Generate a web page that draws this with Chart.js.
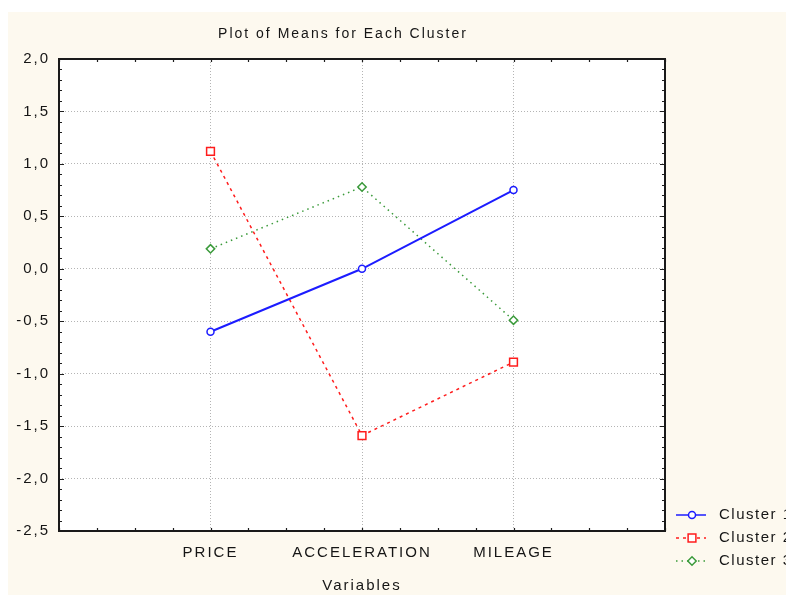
<!DOCTYPE html>
<html><head><meta charset="utf-8">
<script src="https://cdn.jsdelivr.net/npm/chart.js@4.4.1/dist/chart.umd.min.js"></script>
<style>html,body{margin:0;padding:0;background:#fff;overflow:hidden}#wrap{width:786px;height:595px;position:relative}</style>
</head><body><div id="wrap"><canvas id="c" width="786" height="595"></canvas></div>
<script>
// ---- data ----
const chartTitle = 'Plot of Means for Each Cluster';
const xAxisTitle = 'Variables';
const categories = ['PRICE', 'ACCELERATION', 'MILEAGE'];
const seriesNames = ['Cluster 1', 'Cluster 2', 'Cluster 3'];
const cluster1 = [-0.60, 0.00, 0.75];
const cluster2 = [1.12, -1.59, -0.89];
const cluster3 = [0.19, 0.78, -0.49];
const yTickValues = [2.0, 1.5, 1.0, 0.5, 0.0, -0.5, -1.0, -1.5, -2.0, -2.5];

// ---- styles ----
const FONT = "'Liberation Sans', Arial, sans-serif";
const TEXT = '#151515';
const SPACING = '2px';
const styles = [
  {color: '#1c1cff', dash: [], point: 'circle', radius: 3.5, width: 2},
  {color: '#ff1c1c', dash: [3, 4], point: 'rect', radius: 5.5, width: 1.5},
  {color: '#3a9a3a', dash: [1.5, 4], point: 'rectRot', radius: 4.2, width: 1.5}
];
const seriesValues = [cluster1, cluster2, cluster3];

const datasets = seriesValues.map((vals, i) => ({
  label: seriesNames[i],
  data: vals.map((v, j) => ({x: j + 1, y: v})),
  borderColor: styles[i].color,
  borderWidth: styles[i].width,
  borderDash: styles[i].dash,
  pointStyle: styles[i].point,
  pointRadius: styles[i].radius,
  pointBorderWidth: 1.5,
  pointBorderColor: styles[i].color,
  pointBackgroundColor: '#ffffff',
  showLine: true,
  tension: 0
}));

const gridColor = (edgeA, edgeB) => (c) => {
  const v = c.tick ? c.tick.value : null;
  return (v === edgeA || v === edgeB) ? 'rgba(0,0,0,0)' : '#b4b4b4';
};

const decorPlugin = {
  id: 'decor',
  beforeUpdate(chart) { chart.ctx.letterSpacing = SPACING; },
  beforeDraw(chart) {
    const ctx = chart.ctx;
    ctx.letterSpacing = SPACING;
    ctx.save();
    ctx.fillStyle = '#ffffff';
    ctx.fillRect(0, 0, chart.width, chart.height);
    ctx.fillStyle = '#fdf9ef';
    ctx.fillRect(8, 12, chart.width - 8, chart.height - 12);
    const a = chart.chartArea;
    ctx.fillStyle = '#ffffff';
    ctx.fillRect(a.left, a.top, a.right - a.left, a.bottom - a.top);
    ctx.restore();
  },
  afterDraw(chart) {
    const ctx = chart.ctx;
    const a = chart.chartArea;
    const xs = chart.scales.x, ys = chart.scales.y;
    ctx.save();
    // title, centred over the plot frame region as in the original
    ctx.font = '14px ' + FONT;
    ctx.letterSpacing = SPACING;
    ctx.fillStyle = TEXT;
    ctx.textAlign = 'center';
    ctx.textBaseline = 'middle';
    ctx.fillText(chartTitle, (a.left + a.right) / 2 - 19, a.top - 25);

    ctx.strokeStyle = '#1e1e1e';
    ctx.lineWidth = 1.2;
    ctx.beginPath();
    // y ticks every 0.1, both sides, inward
    for (let k = -25; k <= 20; k++) {
      const y = Math.round(ys.getPixelForValue(k / 10)) + 0.5;
      const len = (k % 5 === 0) ? 5 : 3;
      ctx.moveTo(a.left, y); ctx.lineTo(a.left + len, y);
      ctx.moveTo(a.right, y); ctx.lineTo(a.right - len, y);
    }
    // x ticks every 0.25, top and bottom, inward
    for (let k = 0; k <= 16; k++) {
      const x = Math.round(xs.getPixelForValue(k / 4)) + 0.5;
      const len = 3;
      ctx.moveTo(x, a.bottom); ctx.lineTo(x, a.bottom - len);
      ctx.moveTo(x, a.top); ctx.lineTo(x, a.top + len);
    }
    ctx.stroke();
    // frame
    ctx.lineWidth = 2;
    ctx.strokeStyle = '#1a1a1a';
    ctx.strokeRect(a.left, a.top, a.right - a.left, a.bottom - a.top);

    // legend
    ctx.font = '15px ' + FONT;
    ctx.letterSpacing = '1.5px';
    ctx.textBaseline = 'middle';
    ctx.textAlign = 'left';
    chart.data.datasets.forEach((ds, i) => {
      const y = a.bottom - 16 + i * 23;
      const x0 = a.right + 11, x1 = a.right + 41, xm = a.right + 27;
      ctx.save();
      ctx.strokeStyle = ds.borderColor;
      ctx.lineWidth = 1.5;
      ctx.setLineDash(ds.borderDash);
      ctx.beginPath(); ctx.moveTo(x0, y); ctx.lineTo(x1, y); ctx.stroke();
      ctx.setLineDash([]);
      ctx.fillStyle = ds.pointBackgroundColor;
      ctx.strokeStyle = ds.pointBorderColor;
      ctx.lineWidth = ds.pointBorderWidth;
      Chart.helpers.drawPoint(ctx, {pointStyle: ds.pointStyle, radius: ds.pointRadius, rotation: 0, borderWidth: ds.pointBorderWidth}, xm, y);
      ctx.restore();
      ctx.fillStyle = TEXT;
      ctx.fillText(ds.label, a.right + 54, y);
    });
    ctx.restore();
  }
};

new Chart(document.getElementById('c'), {
  type: 'scatter',
  data: {datasets},
  options: {
    responsive: false,
    animation: false,
    devicePixelRatio: 1,
    layout: {padding: {top: 59, left: 5, right: 121, bottom: 0}},
    plugins: {
      legend: {display: false},
      tooltip: {enabled: false},
      title: {display: false}
    },
    scales: {
      x: {
        type: 'linear', min: 0, max: 4, position: 'bottom',
        afterBuildTicks: s => { s.ticks = categories.map((_, i) => ({value: i + 1})); },
        afterFit: s => { s.height = 64; },
        ticks: {
          callback: v => categories[v - 1], autoSkip: false, maxRotation: 0,
          color: TEXT, font: {family: FONT, size: 15}, padding: 13
        },
        grid: {color: gridColor(0, 4), drawTicks: false, lineWidth: 1},
        border: {display: false, dash: [1, 2]},
        title: {display: true, text: xAxisTitle, color: TEXT, font: {family: FONT, size: 15, lineHeight: 1.2}, padding: {top: 0, bottom: 0}}
      },
      y: {
        type: 'linear', min: -2.5, max: 2.0, position: 'left',
        afterBuildTicks: s => { s.ticks = yTickValues.map(v => ({value: v})); },
        afterFit: s => { s.width = 54; },
        ticks: {
          callback: v => (Math.abs(v) < 1e-9 ? 0 : v).toFixed(1).replace('.', ','),
          color: TEXT, font: {family: FONT, size: 15}, padding: 9
        },
        grid: {color: gridColor(2, -2.5), drawTicks: false, lineWidth: 1},
        border: {display: false, dash: [1, 2]}
      }
    }
  },
  plugins: [decorPlugin]
});
</script>
</body></html>
